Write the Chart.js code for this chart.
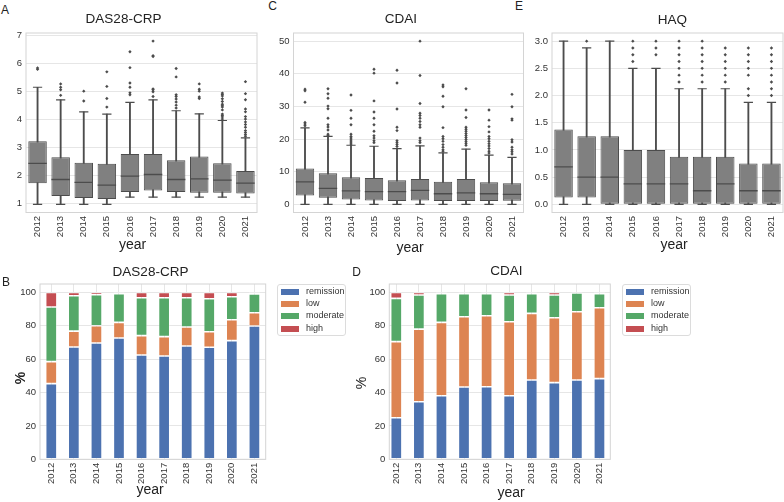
<!DOCTYPE html>
<html>
<head>
<meta charset="utf-8">
<script src="https://cdn.jsdelivr.net/npm/chart.js@4/dist/chart.umd.min.js"></script>
<style>
  body { margin: 0; background: #fff; font-family: 'Liberation Sans', Arial, sans-serif; color: #222; }
  #wrap { position: relative; width: 784px; height: 502px; overflow: hidden; }
  canvas { position: absolute; }
  .t { position: absolute; transform: translate(-50%, -50%); white-space: nowrap; z-index: 2; line-height: 1.15; }
  .letter { font-size: 12px; }
  .title { font-size: 13.5px; }
  .axt { font-size: 14px; }
  .lg { position: absolute; width: 69px; height: 52px; border: 1px solid #dcdcdc; border-radius: 3px; background: #fff; box-sizing: border-box; z-index: 2; }
  .sw { position: absolute; left: 3px; width: 18px; height: 6px; }
  .lt { position: absolute; left: 28px; font-size: 9px; color: #333; transform: translateY(-50%); line-height: 1.1; }
</style>
</head>
<body>
<div id="wrap">
  <canvas id="chartA" width="262" height="225" style="left:0px;top:27px"></canvas>
  <canvas id="chartC" width="260" height="225" style="left:266px;top:27px"></canvas>
  <canvas id="chartE" width="257" height="225" style="left:527px;top:27px"></canvas>
  <canvas id="chartB" width="272" height="224" style="left:0px;top:278px"></canvas>
  <canvas id="chartD" width="266" height="224" style="left:350px;top:278px"></canvas>

  <div class="t letter" style="left:5px;top:11px">A</div>
  <div class="t letter" style="left:272.5px;top:7px">C</div>
  <div class="t letter" style="left:519px;top:7px">E</div>
  <div class="t letter" style="left:6px;top:282.5px">B</div>
  <div class="t letter" style="left:356.5px;top:273px">D</div>

  <div class="t title" style="left:123.5px;top:19px">DAS28-CRP</div>
  <div class="t title" style="left:401px;top:19px">CDAI</div>
  <div class="t title" style="left:672.5px;top:19.5px">HAQ</div>
  <div class="t title" style="left:150.5px;top:271.5px">DAS28-CRP</div>
  <div class="t title" style="left:506.5px;top:270.5px">CDAI</div>

  <div class="t axt" style="left:132.5px;top:243.5px">year</div>
  <div class="t axt" style="left:410px;top:247px">year</div>
  <div class="t axt" style="left:674px;top:243.5px">year</div>
  <div class="t axt" style="left:150px;top:488.5px">year</div>
  <div class="t axt" style="left:511px;top:491.5px">year</div>
  <div class="t axt" style="left:20px;top:378.3px;transform:translate(-50%,-50%) rotate(-90deg);font-weight:bold">%</div>
  <div class="t axt" style="left:361px;top:382.7px;transform:translate(-50%,-50%) rotate(-90deg)">%</div>

  <div class="lg" id="legendB" style="left:277px;top:284px"></div>
  <div class="lg" id="legendD" style="left:622px;top:284px"></div>
</div>

<script>
const years = ['2012', '2013', '2014', '2015', '2016', '2017', '2018', '2019', '2020', '2021'];

// A: DAS28-CRP box plots
const dasLow  = [0.97, 0.97, 0.97, 0.97, 1.23, 1.23, 1.23, 1.23, 1.23, 1.23];
const dasQ1   = [1.73, 1.27, 1.20, 1.16, 1.41, 1.47, 1.41, 1.39, 1.39, 1.36];
const dasMed  = [2.44, 1.86, 1.76, 1.66, 1.98, 2.04, 1.86, 1.88, 1.84, 1.73];
const dasQ3   = [3.23, 2.66, 2.46, 2.42, 2.77, 2.77, 2.55, 2.68, 2.44, 2.16];
const dasHigh = [5.16, 4.71, 4.28, 4.20, 4.62, 4.71, 4.32, 4.21, 3.97, 3.35];
const dasOut  = [
  [5.80, 5.85],
  [5.28, 5.16, 5.07, 4.87],
  [5.02, 4.67],
  [5.71, 5.19, 4.76, 4.45],
  [6.43, 5.86, 5.31, 5.16, 4.96, 4.89],
  [6.81, 6.29, 6.26, 5.10, 5.07, 5.00, 4.83],
  [5.83, 5.53, 4.89, 4.83, 4.74, 4.63, 4.52, 4.42],
  [5.28, 5.09, 5.02, 4.81, 4.76],
  [4.95, 4.90, 4.85, 4.75, 4.65, 4.55, 4.50, 4.45, 4.35, 4.20, 4.15, 4.10, 4.02],
  [5.36, 4.93, 4.71, 4.38, 4.28, 4.11, 4.02, 3.92, 3.83, 3.73, 3.61, 3.54, 3.47, 3.41]
];
const dasTicks = [1, 2, 3, 4, 5, 6, 7];

// C: CDAI box plots
const cdaiLow  = [0, 0, 0, 0, 0, 0, 0, 0, 0, 0];
const cdaiQ1   = [2.7, 2.0, 1.5, 1.2, 1.0, 1.2, 1.0, 1.0, 1.0, 1.1];
const cdaiMed  = [6.9, 4.9, 4.1, 3.9, 3.9, 4.3, 3.25, 3.5, 3.25, 3.05];
const cdaiQ3   = [11.0, 9.55, 8.3, 8.1, 7.4, 7.8, 6.9, 7.8, 6.8, 6.5];
const cdaiHigh = [23.4, 20.8, 18.1, 17.8, 17.1, 17.9, 15.8, 16.9, 15.1, 14.4];
const cdaiOut  = [
  [35.3, 34.8, 31.3, 25.1, 24.6, 24.1],
  [35.4, 33.9, 32.5, 30.1, 29.3, 26.4, 24.4, 23.7, 22.8, 21.5, 21.1],
  [33.5, 28.8, 26.4, 24.4, 21.5, 20.8, 20.3, 19.7, 19.1, 18.5],
  [41.4, 40.2, 31.7, 28.3, 26.4, 24.4, 22.4, 21.0, 20.3, 19.5, 18.9],
  [41.1, 37.2, 29.2, 23.6, 22.6, 19.5, 18.9, 18.3, 17.7],
  [50.0, 39.5, 30.9, 27.9, 27.2, 26.4, 25.4, 24.4, 23.6, 20.3, 19.5, 18.9],
  [36.6, 36.0, 33.1, 29.9, 23.5, 20.8, 20.1, 19.3, 18.3, 17.5, 16.7, 16.3],
  [35.4, 28.9, 26.6, 23.6, 23.0, 22.4, 21.7, 21.1, 20.5, 19.9, 19.3, 18.7, 18.1],
  [28.9, 25.8, 23.8, 22.2, 20.8, 20.1, 19.3, 18.6, 17.9, 17.1, 16.3, 15.7],
  [33.7, 29.9, 26.2, 25.8, 19.8, 19.1, 17.5, 16.7, 16.1, 15.4]
];
const cdaiTicks = [0, 10, 20, 30, 40, 50];

// E: HAQ box plots
const haqLow  = [0, 0, 0, 0, 0, 0, 0, 0, 0, 0];
const haqQ1   = [0.125, 0.125, 0, 0, 0, 0, 0, 0, 0, 0];
const haqMed  = [0.6875, 0.5, 0.5, 0.375, 0.375, 0.375, 0.25, 0.375, 0.25, 0.25];
const haqQ3   = [1.375, 1.25, 1.25, 1.0, 1.0, 0.875, 0.875, 0.875, 0.75, 0.75];
const haqHigh = [3.0, 2.875, 3.0, 2.5, 2.5, 2.125, 2.125, 2.125, 1.875, 1.875];
const haqOut  = [
  [],
  [3.0],
  [],
  [3.0, 2.875, 2.75, 2.625],
  [3.0, 2.875, 2.75],
  [3.0, 2.875, 2.75, 2.625, 2.5, 2.375, 2.25],
  [3.0, 2.875, 2.75, 2.625, 2.5, 2.375, 2.25],
  [2.875, 2.75, 2.625, 2.5, 2.375, 2.25],
  [2.875, 2.75, 2.625, 2.5, 2.375, 2.125, 2.0],
  [2.875, 2.75, 2.625, 2.5, 2.375, 2.25, 2.125, 2.0]
];
const haqTicks = [0, 0.5, 1.0, 1.5, 2.0, 2.5, 3.0];

// B and D: share of patients per activity level (%)
const levels = ['remission', 'low', 'moderate', 'high'];
const levelColors = ['#4C72B0', '#DD8452', '#55A868', '#C44E52'];

const dasRemission = [45.3, 67.3, 69.7, 72.7, 62.5, 61.9, 67.9, 67.1, 71.1, 79.8];
const dasLowAct    = [13.2, 9.5, 10.3, 9.3, 11.6, 11.6, 11.3, 9.3, 12.5, 8.0];
const dasModerate  = [32.7, 21.2, 18.6, 17.2, 22.7, 23.3, 17.6, 19.8, 13.8, 11.2];
const dasHighAct   = [8.8, 2.0, 1.4, 0.8, 3.2, 3.2, 3.2, 3.8, 2.6, 1.0];

const cdaiRemission = [24.9, 34.5, 38.1, 43.3, 43.5, 38.1, 47.5, 45.9, 47.5, 48.3];
const cdaiLowAct    = [45.6, 43.5, 43.9, 42.1, 42.5, 44.3, 39.9, 38.9, 40.9, 42.5];
const cdaiModerate  = [25.9, 20.4, 17.2, 13.8, 13.2, 16.0, 11.8, 13.6, 11.2, 8.4];
const cdaiHighAct   = [3.6, 1.6, 0.8, 0.8, 0.8, 1.6, 0.8, 1.6, 0.4, 0.8];
const pctTicks = [0, 20, 40, 60, 80, 100];

const boxGray = '#808080';
const lineGray = '#4c4c4c';
const gridColor = '#e6e6e6';
const frameColor = '#d4d4d4';

Chart.defaults.font.family = "'Liberation Sans', Arial, sans-serif";
Chart.defaults.font.size = 9.5;
Chart.defaults.color = '#333';

const framePlugin = {
    id: 'frame',
    afterDatasetsDraw(chart) {
        const a = chart.chartArea;
        const c = chart.ctx;
        c.save();
        c.strokeStyle = frameColor;
        c.lineWidth = 1;
        c.strokeRect(a.left, a.top, a.width, a.height);
        c.restore();
    }
};

// year axis drawn on a linear scale so the end margins can be set exactly
function xScale(min, max, height, showGrid, stacked) {
    return {
        type: 'linear',
        min: min,
        max: max,
        offset: false,
        stacked: stacked,
        afterBuildTicks: s => { s.ticks = years.map((y, i) => ({ value: i })); },
        afterFit: s => { s.height = height; s.paddingLeft = 0; s.paddingRight = 0; },
        ticks: { autoSkip: false, minRotation: 90, maxRotation: 90, padding: 3.5,
                 callback: v => years[v] },
        grid: { display: showGrid, color: gridColor, drawTicks: false, offset: false },
        border: { display: false }
    };
}

function yScale(min, max, ticks, digits, width, stacked) {
    return {
        min: min,
        max: max,
        stacked: stacked,
        afterBuildTicks: s => { s.ticks = ticks.map(v => ({ value: v })); },
        afterFit: s => { s.width = width; s.paddingTop = 0; s.paddingBottom = 0; },
        ticks: { padding: 4, callback: v => v.toFixed(digits) },
        grid: { color: gridColor, drawTicks: false },
        border: { display: false }
    };
}

function boxChart(id, low, q1, med, q3, high, outliers, yMin, yMax, ticks, digits, yWidth, pad) {
    const outPoints = [];
    outliers.forEach((list, i) => list.forEach(v => outPoints.push({ x: i, y: v })));
    const pts = arr => arr.map((v, i) => ({ x: i, y: v }));
    const halfBox = ctx => (ctx.chart.chartArea ? ctx.chart.chartArea.width / years.length : 23) * 0.4;

    new Chart(document.getElementById(id), {
        type: 'bar',
        data: {
            datasets: [
                { type: 'line', data: outPoints, showLine: false, pointStyle: 'rectRot',
                  pointRadius: 1.7, pointBackgroundColor: lineGray, pointBorderWidth: 0 },
                { type: 'line', data: pts(med), showLine: false, pointStyle: 'line',
                  pointRadius: halfBox, pointBorderColor: lineGray, pointBorderWidth: 1.3 },
                { type: 'line', data: pts(high), showLine: false, pointStyle: 'line',
                  pointRadius: ctx => halfBox(ctx) / 2, pointBorderColor: lineGray, pointBorderWidth: 1.2 },
                { type: 'line', data: pts(low), showLine: false, pointStyle: 'line',
                  pointRadius: ctx => halfBox(ctx) / 2, pointBorderColor: lineGray, pointBorderWidth: 1.2 },
                { data: q1.map((v, i) => ({ x: i, y: [v, q3[i]] })), backgroundColor: boxGray, borderColor: lineGray,
                  borderWidth: 1, borderSkipped: false, grouped: false, barPercentage: 0.8, categoryPercentage: 1 },
                { data: low.map((v, i) => ({ x: i, y: [v, high[i]] })), backgroundColor: lineGray,
                  barThickness: 1.2, grouped: false }
            ]
        },
        options: {
            responsive: false,
            animation: false,
            layout: { autoPadding: false, padding: pad },
            plugins: { legend: { display: false }, tooltip: { enabled: false } },
            scales: {
                x: xScale(-0.5, 9.5, 39.5, false, false),
                y: yScale(yMin, yMax, ticks, digits, yWidth, false)
            }
        },
        plugins: [framePlugin]
    });
}

function stackChart(id, series, xMin, xMax, yWidth, pad) {
    new Chart(document.getElementById(id), {
        type: 'bar',
        data: {
            datasets: series.map((vals, k) => ({
                label: levels[k],
                data: vals.map((v, i) => ({ x: i, y: v })),
                backgroundColor: levelColors[k],
                borderColor: 'rgba(255,255,255,0.45)',
                borderWidth: 0.8,
                borderSkipped: false,
                barPercentage: 0.5,
                categoryPercentage: 1
            }))
        },
        options: {
            responsive: false,
            animation: false,
            layout: { autoPadding: false, padding: pad },
            plugins: { legend: { display: false }, tooltip: { enabled: false } },
            scales: {
                x: xScale(xMin, xMax, 42.7, true, true),
                y: yScale(0, 105, pctTicks, 0, yWidth, true)
            }
        },
        plugins: [framePlugin]
    });
}

function buildLegend(id) {
    const box = document.getElementById(id);
    const rows = [6.7, 18.9, 31.2, 43.6];
    levels.forEach((name, k) => {
        const sw = document.createElement('div');
        sw.className = 'sw';
        sw.style.top = (rows[k] - 3) + 'px';
        sw.style.background = levelColors[k];
        box.appendChild(sw);
        const t = document.createElement('div');
        t.className = 'lt';
        t.style.top = rows[k] + 'px';
        t.textContent = name;
        box.appendChild(t);
    });
}

boxChart('chartA', dasLow, dasQ1, dasMed, dasQ3, dasHigh, dasOut, 0.68, 7.1, dasTicks, 0, 26,
         { top: 6, right: 5, left: 0, bottom: 0 });
boxChart('chartC', cdaiLow, cdaiQ1, cdaiMed, cdaiQ3, cdaiHigh, cdaiOut, -2.5, 52.5, cdaiTicks, 0, 27.5,
         { top: 6, right: 2.5, left: 0, bottom: 0 });
boxChart('chartE', haqLow, haqQ1, haqMed, haqQ3, haqHigh, haqOut, -0.15, 3.15, haqTicks, 1, 25,
         { top: 6, right: 1, left: 0, bottom: 0 });

stackChart('chartB', [dasRemission, dasLowAct, dasModerate, dasHighAct], -0.5, 9.5, 40,
           { top: 6, right: 6.3, left: 0, bottom: 0 });
stackChart('chartD', [cdaiRemission, cdaiLowAct, cdaiModerate, cdaiHighAct], -0.31, 9.48, 39.3,
           { top: 6, right: 5.7, left: 0, bottom: 0 });

buildLegend('legendB');
buildLegend('legendD');
</script>
</body>
</html>
